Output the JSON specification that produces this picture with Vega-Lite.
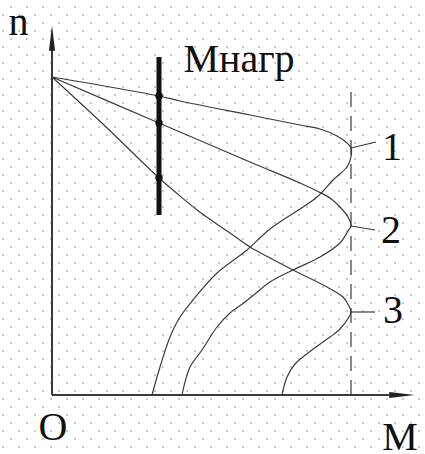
{
  "$schema": "https://vega.github.io/schema/vega-lite/v6.json",
  "width": 425,
  "height": 454,
  "autosize": {"type": "none"},
  "padding": 0,
  "background": "white",
  "config": {
    "view": {"stroke": null},
    "axisY": {
      "domain": false,
      "ticks": false,
      "labels": false,
      "grid": true,
      "translate": 0,
      "tickCount": 500,
      "gridColor": "#c8c8c8",
      "gridWidth": 2,
      "gridDash": [2, 14]
    }
  },
  "datasets": {
    "curves": [
      {"curve": "1", "ord": 0, "M": 0, "n": 318},
      {"curve": "1", "ord": 1, "M": 107, "n": 299},
      {"curve": "1", "ord": 2, "M": 128, "n": 294},
      {"curve": "1", "ord": 3, "M": 198, "n": 280},
      {"curve": "1", "ord": 4, "M": 248, "n": 270},
      {"curve": "1", "ord": 5, "M": 268, "n": 266},
      {"curve": "1", "ord": 6, "M": 285, "n": 259},
      {"curve": "1", "ord": 7, "M": 295, "n": 252},
      {"curve": "1", "ord": 8, "M": 299, "n": 247},
      {"curve": "1", "ord": 9, "M": 299, "n": 238},
      {"curve": "1", "ord": 10, "M": 295, "n": 228},
      {"curve": "1", "ord": 11, "M": 281, "n": 215},
      {"curve": "1", "ord": 12, "M": 265, "n": 198},
      {"curve": "1", "ord": 13, "M": 218, "n": 166},
      {"curve": "1", "ord": 14, "M": 195, "n": 145},
      {"curve": "1", "ord": 15, "M": 165, "n": 122},
      {"curve": "1", "ord": 16, "M": 141, "n": 95},
      {"curve": "1", "ord": 17, "M": 128, "n": 78},
      {"curve": "1", "ord": 18, "M": 118, "n": 58},
      {"curve": "1", "ord": 19, "M": 108, "n": 28},
      {"curve": "1", "ord": 20, "M": 100, "n": 0},

      {"curve": "2", "ord": 0, "M": 0, "n": 318},
      {"curve": "2", "ord": 1, "M": 107, "n": 272},
      {"curve": "2", "ord": 2, "M": 128, "n": 263},
      {"curve": "2", "ord": 3, "M": 198, "n": 233},
      {"curve": "2", "ord": 4, "M": 248, "n": 212},
      {"curve": "2", "ord": 5, "M": 265, "n": 204},
      {"curve": "2", "ord": 6, "M": 278, "n": 197},
      {"curve": "2", "ord": 7, "M": 288, "n": 188},
      {"curve": "2", "ord": 8, "M": 296, "n": 178},
      {"curve": "2", "ord": 9, "M": 299, "n": 169},
      {"curve": "2", "ord": 10, "M": 296, "n": 164},
      {"curve": "2", "ord": 11, "M": 288, "n": 152},
      {"curve": "2", "ord": 12, "M": 268, "n": 138},
      {"curve": "2", "ord": 13, "M": 241, "n": 125},
      {"curve": "2", "ord": 14, "M": 218, "n": 113},
      {"curve": "2", "ord": 15, "M": 203, "n": 101},
      {"curve": "2", "ord": 16, "M": 193, "n": 93},
      {"curve": "2", "ord": 17, "M": 178, "n": 82},
      {"curve": "2", "ord": 18, "M": 165, "n": 68},
      {"curve": "2", "ord": 19, "M": 150, "n": 45},
      {"curve": "2", "ord": 20, "M": 138, "n": 28},
      {"curve": "2", "ord": 21, "M": 130, "n": 0},

      {"curve": "3", "ord": 0, "M": 0, "n": 318},
      {"curve": "3", "ord": 1, "M": 53, "n": 269},
      {"curve": "3", "ord": 2, "M": 107, "n": 217},
      {"curve": "3", "ord": 3, "M": 121, "n": 205},
      {"curve": "3", "ord": 4, "M": 145, "n": 185},
      {"curve": "3", "ord": 5, "M": 178, "n": 162},
      {"curve": "3", "ord": 6, "M": 198, "n": 148},
      {"curve": "3", "ord": 7, "M": 218, "n": 137},
      {"curve": "3", "ord": 8, "M": 241, "n": 125},
      {"curve": "3", "ord": 9, "M": 275, "n": 108},
      {"curve": "3", "ord": 10, "M": 291, "n": 98},
      {"curve": "3", "ord": 11, "M": 297, "n": 89},
      {"curve": "3", "ord": 12, "M": 299, "n": 83},
      {"curve": "3", "ord": 13, "M": 297, "n": 78},
      {"curve": "3", "ord": 14, "M": 287, "n": 65},
      {"curve": "3", "ord": 15, "M": 278, "n": 58},
      {"curve": "3", "ord": 16, "M": 260, "n": 45},
      {"curve": "3", "ord": 17, "M": 243, "n": 31},
      {"curve": "3", "ord": 18, "M": 235, "n": 18},
      {"curve": "3", "ord": 19, "M": 230, "n": 0}
    ],
    "axes": [
      {"M": 0, "n": 0, "M2": 0, "n2": 360},
      {"M": 0, "n": 0, "M2": 352, "n2": 0}
    ],
    "leaders": [
      {"M": 299, "n": 247, "M2": 324, "n2": 253},
      {"M": 299, "n": 169, "M2": 323, "n2": 165},
      {"M": 299, "n": 83, "M2": 323, "n2": 83}
    ],
    "limit": [{"M": 299, "n": 0, "n2": 312}],
    "load": [{"M": 107, "n": 180, "n2": 338}],
    "crossings": [
      {"M": 107, "n": 299},
      {"M": 107, "n": 272},
      {"M": 107, "n": 217}
    ],
    "labels": [
      {"M": -33.5, "n": 360, "text": "n"},
      {"M": 187, "n": 323, "text": "Мнагр"},
      {"M": 340, "n": 235, "text": "1"},
      {"M": 339, "n": 152, "text": "2"},
      {"M": 341, "n": 72, "text": "3"},
      {"M": 1, "n": -45, "text": "O"},
      {"M": 348, "n": -55, "text": "M"}
    ]
  },
  "layer": [
    {
      "data": {"name": "curves"},
      "mark": {"type": "line", "interpolate": "catmull-rom", "color": "#3c3c3c", "strokeWidth": 1.2},
      "encoding": {
        "x": {"field": "M", "type": "quantitative", "scale": {"domain": [-52, 373], "nice": false, "zero": false}, "axis": null},
        "y": {
          "field": "n", "type": "quantitative",
          "scale": {"domain": [-59, 395], "nice": false, "zero": false},
          "title": null,
          "axis": {
            "tickCount": 500,
            "values": [388, 380, 372, 364, 356, 348, 340, 332, 324, 316, 308, 300, 292, 284, 276, 268, 260, 252, 244, 236, 228, 220, 212, 204, 196, 188, 180, 172, 164, 156, 148, 140, 132, 124, 116, 108, 100, 92, 84, 76, 68, 60, 52, 44, 36, 28, 20, 12, 4, -4, -12, -20, -28, -36, -44, -52],
            "gridDashOffset": {"condition": {"test": "((datum.value % 16) + 16) % 16 == 4", "value": 6}, "value": 14}
          }
        },
        "detail": {"field": "curve"},
        "order": {"field": "ord", "type": "quantitative"}
      }
    },
    {
      "data": {"name": "axes"},
      "mark": {"type": "rule", "color": "#3a3a3a", "strokeWidth": 2},
      "encoding": {
        "x": {"field": "M", "type": "quantitative", "axis": null},
        "y": {"field": "n", "type": "quantitative", "title": null},
        "x2": {"field": "M2"},
        "y2": {"field": "n2"}
      }
    },
    {
      "data": {"values": [{"M": 0, "n": 357}]},
      "mark": {"type": "point", "shape": "M0,-1L0.24,1L-0.24,1Z", "filled": true, "color": "#222", "opacity": 1, "size": 650},
      "encoding": {
        "x": {"field": "M", "type": "quantitative", "axis": null},
        "y": {"field": "n", "type": "quantitative", "title": null}
      }
    },
    {
      "data": {"values": [{"M": 350, "n": 0}]},
      "mark": {"type": "point", "shape": "M1,0L-1,0.24L-1,-0.24Z", "filled": true, "color": "#222", "opacity": 1, "size": 650},
      "encoding": {
        "x": {"field": "M", "type": "quantitative", "axis": null},
        "y": {"field": "n", "type": "quantitative", "title": null}
      }
    },
    {
      "data": {"name": "limit"},
      "mark": {"type": "rule", "color": "#3a3a3a", "strokeWidth": 1.2, "strokeDash": [15, 9]},
      "encoding": {
        "x": {"field": "M", "type": "quantitative", "axis": null},
        "y": {"field": "n", "type": "quantitative", "title": null},
        "y2": {"field": "n2"}
      }
    },
    {
      "data": {"name": "leaders"},
      "mark": {"type": "rule", "color": "#3a3a3a", "strokeWidth": 1.2},
      "encoding": {
        "x": {"field": "M", "type": "quantitative", "axis": null},
        "y": {"field": "n", "type": "quantitative", "title": null},
        "x2": {"field": "M2"},
        "y2": {"field": "n2"}
      }
    },
    {
      "data": {"name": "load"},
      "mark": {"type": "rule", "color": "#111", "strokeWidth": 5},
      "encoding": {
        "x": {"field": "M", "type": "quantitative", "axis": null},
        "y": {"field": "n", "type": "quantitative", "title": null},
        "y2": {"field": "n2"}
      }
    },
    {
      "data": {"name": "crossings"},
      "mark": {"type": "point", "filled": true, "color": "#111", "opacity": 1, "size": 55},
      "encoding": {
        "x": {"field": "M", "type": "quantitative", "axis": null},
        "y": {"field": "n", "type": "quantitative", "title": null}
      }
    },
    {
      "data": {"name": "labels"},
      "mark": {"type": "text", "font": "Liberation Serif", "fontSize": 40, "color": "#111", "align": "center", "baseline": "alphabetic"},
      "encoding": {
        "x": {"field": "M", "type": "quantitative", "axis": null},
        "y": {"field": "n", "type": "quantitative", "title": null},
        "text": {"field": "text"}
      }
    }
  ]
}
